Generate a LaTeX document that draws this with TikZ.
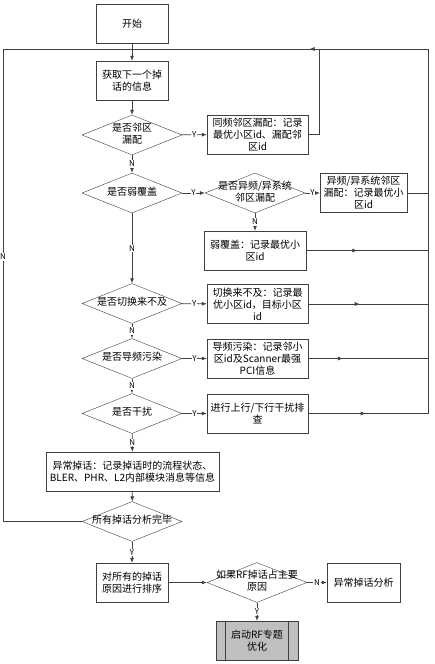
\documentclass[tikz,border=0pt]{standalone}
\usepackage{fontspec}
\setmainfont{Noto Sans CJK SC}
\usetikzlibrary{shapes.geometric,arrows.meta,decorations.markings}
\newcommand{\dtxt}[1]{\makebox[0pt]{\begin{tabular}{@{}c@{}}#1\end{tabular}}}

\begin{document}
\begin{tikzpicture}[x=1pt, y=-1pt, >={Latex[length=5pt,width=4pt]},
	every node/.style={font=\fontsize{10}{12}\selectfont},
	box/.style={draw=black!75, minimum height=39pt, inner sep=1pt, align=center},
	decision/.style={diamond, draw=black!75, minimum width=100pt, minimum height=40pt, inner sep=0pt},
	yn/.style={font=\fontsize{8}{9}\selectfont, fill=white, inner sep=0.8pt},
	line/.style={draw=black!75, line width=0.7pt},
	midarr/.style={postaction={decorate}, decoration={markings, mark=at position #1 with {\arrow{>}}}}]
	\useasboundingbox (0,0) rectangle (435,664);
	% main column
	\node[box, minimum width=72pt] (start) at (132,23.5) {开始};
	\node[box, minimum width=72pt] (huoqu) at (132,80.5) {获取下一个掉\\话的信息};
	\node[decision] (linqu) at (132,135) {\dtxt{是否邻区\\漏配}};
	\node[decision] (ruofugai) at (132,193) {\dtxt{是否弱覆盖}};
	\node[decision] (qiehuan) at (132,303.5) {\dtxt{是否切换来不及}};
	\node[decision] (daopin) at (132,358.5) {\dtxt{是否导频污染}};
	\node[decision] (ganrao) at (132,413.5) {\dtxt{是否干扰}};
	\node[box, minimum width=173pt] (yichang) at (132.5,471.5) {异常掉话：记录掉话时的流程状态、\\BLER、PHR、L2内部模块消息等信息};
	\node[decision] (wanbi) at (132,521.5) {\dtxt{所有掉话分析完毕}};
	\node[box, minimum width=72pt] (paixu) at (132,582.5) {对所有的掉话\\原因进行排序};
	% right column
	\node[box, minimum width=101pt] (tongpin) at (257.5,134.5) {同频邻区漏配：记录\\最优小区id、漏配邻\\区id};
	\node[decision] (yixitong) at (255,193) {\dtxt{是否异频/异系统\\邻区漏配}};
	\node[box, minimum width=87pt] (yipin) at (363.5,193) {异频/异系统邻区\\漏配：记录最优小\\区id};
	\node[box, minimum width=102pt] (ruobox) at (255,250.5) {弱覆盖：记录最优小\\区id};
	\node[box, minimum width=101pt] (qhbox) at (257.5,304) {切换来不及：记录最\\优小区id，目标小区\\id};
	\node[box, minimum width=101pt] (dpbox) at (257.5,358.5) {导频污染：记录邻小\\区id及Scanner最强\\PCI信息};
	\node[box, minimum width=101pt] (grbox) at (257.5,413.5) {进行上行/下行干扰排\\查};
	\node[decision] (rfzhu) at (257,582.5) {\dtxt{如果RF掉话占主要\\原因}};
	\node[box, minimum width=73pt] (fenxi) at (363.5,582.5) {异常掉话分析};
	\node[box, minimum width=82pt, fill=black!25] (qidong) at (257,640.5) {启动RF专题\\优化};
	\draw[line] ([xshift=10pt]qidong.north west) -- ([xshift=10pt]qidong.south west);
	\draw[line] ([xshift=-10pt]qidong.north east) -- ([xshift=-10pt]qidong.south east);
	% loop corners
	\coordinate (join) at (132,49);
	\coordinate (rtop) at (428,49);
	\coordinate (ltop) at (3,49);
	\coordinate (tpup) at (319,49);
	% connectors
	\draw[line,->] (start) -- (huoqu);
	\draw[line,->] (huoqu) -- (linqu);
	\draw[line,->] (linqu) -- node[yn]{Y} (tongpin);
	\draw[line,->] (linqu) -- node[yn]{N} (ruofugai);
	\draw[line,->] (ruofugai) -- node[yn]{Y} (yixitong);
	\draw[line,->] (yixitong) -- node[yn]{Y} (yipin);
	\draw[line,->] (yixitong) -- node[yn]{N} (ruobox);
	\draw[line,->] (ruofugai) -- node[yn]{N} (qiehuan);
	\draw[line,->] (qiehuan) -- node[yn]{Y} (qhbox);
	\draw[line,->] (qiehuan) -- node[yn]{N} (daopin);
	\draw[line,->] (daopin) -- node[yn]{Y} (dpbox);
	\draw[line,->] (daopin) -- node[yn]{N} (ganrao);
	\draw[line,->] (ganrao) -- node[yn]{Y} (grbox);
	\draw[line,->] (ganrao) -- node[yn]{N} (yichang);
	\draw[line,->] (yichang) -- (wanbi);
	\draw[line,->] (wanbi) -- node[yn]{Y} (paixu);
	\draw[line,->] (paixu) -- (rfzhu);
	\draw[line,->] (rfzhu) -- node[yn]{N} (fenxi);
	\draw[line,->] (rfzhu) -- node[yn]{Y} (qidong);
	% return lines
	\draw[line] (tongpin.east) -| (tpup);
	\draw[line] (yipin.east) -- (yipin.east -| rtop);
	\draw[line, midarr=0.42] (ruobox.east) -- (ruobox.east -| rtop);
	\draw[line, midarr=0.43] (qhbox.east) -- (qhbox.east -| rtop);
	\draw[line, midarr=0.29] (dpbox.east) -- (dpbox.east -| rtop);
	\draw[line, midarr=0.48] (grbox.east) -- (grbox.east -| rtop);
	\draw[line] (grbox.east -| rtop) -- (rtop);
	\draw[line, midarr=0.4] (rtop) -- (join);
	\draw[line] (wanbi.west) -| node[yn, pos=0.78]{N} (ltop);
	\draw[line] (ltop) -- (join);
\end{tikzpicture}
\end{document}
